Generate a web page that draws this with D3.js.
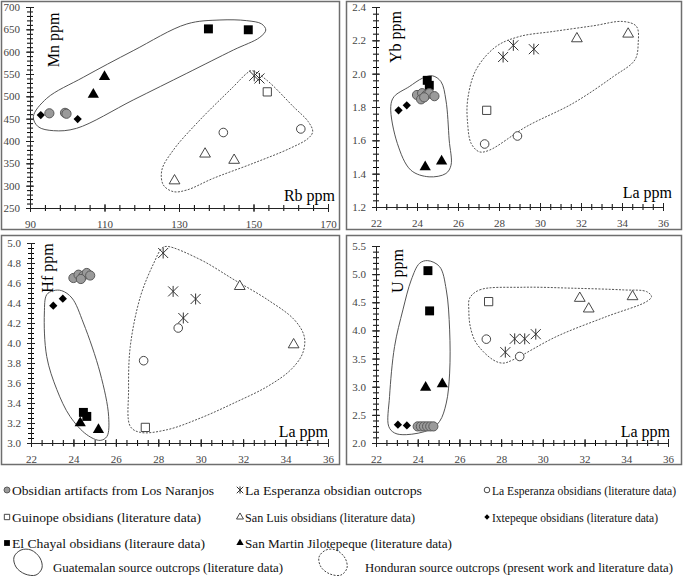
<!DOCTYPE html>
<html>
<head>
<meta charset="utf-8">
<script src="https://cdn.jsdelivr.net/npm/d3@7"></script>
<style>
  body { margin: 0; background: #fff; }
  svg { display: block; font-family: "Liberation Serif", "Times New Roman", serif; }
</style>
</head>
<body>
<div id="chart"></div>
<script>
// group keys: n = Los Naranjos artifacts, e = La Esperanza outcrops, el = La Esperanza (lit.),
// g = Guinope, s = San Luis, i = Ixtepeque, c = El Chayal, m = San Martin Jilotepeque
const rbMn = [
  ['i', 92.9, 458], ['i', 102.8, 449],
  ['n', 95.2, 462], ['n', 99.4, 463], ['n', 99.8, 461],
  ['m', 107, 504], ['m', 110, 544],
  ['c', 137.9, 651], ['c', 148.6, 649],
  ['el', 141.9, 419], ['el', 162.7, 427],
  ['s', 137, 371], ['s', 144.8, 357], ['s', 128.8, 311],
  ['g', 153.7, 510],
  ['e', 150.2, 546], ['e', 151.6, 540]
];
const laYb = [
  ['i', 23.1, 1.78], ['i', 23.5, 1.81],
  ['m', 24.4, 1.44], ['m', 25.2, 1.475],
  ['c', 24.5, 1.96], ['c', 24.6, 1.93],
  ['n', 24.0, 1.872], ['n', 24.25, 1.883], ['n', 24.45, 1.872], ['n', 24.6, 1.883],
  ['n', 24.2, 1.846], ['n', 24.85, 1.865], ['n', 24.35, 1.858],
  ['g', 27.4, 1.78],
  ['el', 27.3, 1.578], ['el', 28.9, 1.626],
  ['s', 31.8, 2.21], ['s', 34.3, 2.238],
  ['e', 28.2, 2.1], ['e', 28.7, 2.17], ['e', 29.7, 2.147]
];
const laHf = [
  ['i', 23.05, 4.373], ['i', 23.5, 4.443],
  ['n', 24.0, 4.65], ['n', 24.24, 4.683], ['n', 24.47, 4.673], ['n', 24.63, 4.70],
  ['n', 24.79, 4.675], ['n', 24.35, 4.64],
  ['c', 24.47, 3.306], ['c', 24.63, 3.266],
  ['m', 24.32, 3.2], ['m', 25.18, 3.133],
  ['el', 27.31, 3.823], ['el', 28.94, 4.15],
  ['g', 27.39, 3.156],
  ['s', 31.84, 4.566], ['s', 34.38, 3.983],
  ['e', 28.23, 4.9], ['e', 28.7, 4.516], ['e', 29.76, 4.44], ['e', 29.18, 4.25]
];
const laU = [
  ['c', 24.49, 5.062], ['c', 24.57, 4.347],
  ['m', 24.38, 2.987], ['m', 25.18, 3.047],
  ['i', 23.05, 2.325], ['i', 23.48, 2.313],
  ['n', 24.0, 2.295], ['n', 24.15, 2.295], ['n', 24.3, 2.295], ['n', 24.45, 2.295],
  ['n', 24.6, 2.295], ['n', 24.75, 2.295],
  ['g', 27.4, 4.512],
  ['el', 27.29, 3.845], ['el', 28.89, 3.537],
  ['e', 28.2, 3.614], ['e', 28.65, 3.85], ['e', 29.13, 3.85], ['e', 29.66, 3.934],
  ['s', 31.77, 4.572], ['s', 32.2, 4.383], ['s', 34.3, 4.601]
];

// source outlines, in data units
const rbMnGuat = [[90.9, 454.5], [92.2, 432], [96.3, 423.1], [102.5, 428.4], [117.7, 491.8],
  [132.1, 551.6], [144.6, 603.7], [151.7, 632.1], [153.3, 648.5], [152.2, 662], [148.2, 669.4],
  [141, 670.9], [132.1, 662], [117.7, 602.2], [104.3, 542.6], [94.5, 495.5]];
const rbMnHond = [[149.5, 557.5], [153.5, 536.6], [160.7, 476.9], [164.7, 443.3], [165.9, 420.9],
  [164.7, 406], [159.8, 383.6], [149.9, 350], [139.2, 316.4], [132.1, 290.3], [128.5, 286.6],
  [125.8, 301.5], [125.4, 335.1], [128.5, 379.9], [135.6, 447], [144.6, 521.6], [148.2, 551.5]];
const laYbGuat = [[24.76, 1.987], [25.17, 1.952], [25.41, 1.842], [25.57, 1.602], [25.66, 1.451],
  [25.41, 1.401], [24.59, 1.381], [23.7, 1.421], [23.04, 1.582], [22.72, 1.802], [22.88, 1.862],
  [23.62, 1.922], [24.27, 1.973]];
const laYbHond = [[26.47, 1.702], [26.47, 1.842], [26.88, 2.023], [27.86, 2.163], [29.0, 2.223],
  [30.63, 2.253], [32.59, 2.287], [34.06, 2.313], [34.71, 2.283], [34.79, 2.183], [34.63, 2.083],
  [33.57, 1.982], [31.61, 1.822], [29.33, 1.682], [27.53, 1.541], [27.04, 1.531], [26.64, 1.582]];
const laHfGuat = [[23.05, 4.523], [22.74, 4.483], [22.63, 4.3], [22.74, 3.866], [23.22, 3.533],
  [23.84, 3.266], [24.63, 3.083], [25.26, 3.026], [25.58, 3.066], [25.66, 3.266], [25.26, 3.7],
  [24.47, 4.2], [23.93, 4.45], [23.45, 4.523]];
const laHfHond = [[28.42, 4.966], [29.99, 4.833], [31.57, 4.633], [33.15, 4.433], [34.41, 4.233],
  [34.88, 4.066], [34.81, 3.9], [34.25, 3.733], [33.15, 3.566], [31.57, 3.4], [29.99, 3.25],
  [28.42, 3.133], [27.16, 3.106], [26.68, 3.166], [26.6, 3.533], [26.68, 3.966], [27.16, 4.466],
  [27.79, 4.8], [28.18, 4.95]];
const laUGuat = [[24.48, 5.24], [25.05, 5.133], [25.37, 4.72], [25.53, 4.01], [25.53, 3.242],
  [25.37, 2.71], [25.05, 2.384], [24.57, 2.236], [23.45, 2.148], [22.89, 2.178], [22.61, 2.295],
  [22.65, 2.827], [22.89, 3.714], [23.29, 4.365], [23.69, 4.897], [24.09, 5.193]];
const laUHond = [[26.49, 4.572], [26.97, 4.72], [29.05, 4.767], [31.45, 4.75], [33.85, 4.72],
  [34.97, 4.69], [35.21, 4.601], [34.97, 4.512], [33.05, 4.246], [30.65, 3.891], [28.57, 3.478],
  [28.09, 3.419], [27.61, 3.478], [26.81, 3.774], [26.52, 4.069], [26.45, 4.365]];

const rbTicks = [90, 110, 130, 150, 170];
const mnTicks = [250, 300, 350, 400, 450, 500, 550, 600, 650, 700];
const laTicks = [22, 24, 26, 28, 30, 32, 34, 36];
const ybTicks = [1.2, 1.4, 1.6, 1.8, 2.0, 2.2, 2.4];
const hfTicks = [3.0, 3.2, 3.4, 3.6, 3.8, 4.0, 4.2, 4.4, 4.6, 4.8, 5.0];
const uTicks = [2.0, 2.5, 3.0, 3.5, 4.0, 4.5, 5.0, 5.5];

const legendKeys = ['n', 'e', 'el', 'g', 's', 'i', 'c', 'm'];
const legendLabels = [
  'Obsidian artifacts from Los Naranjos', 'La Esperanza obsidian outcrops',
  'La Esperanza obsidians (literature data)', 'Guinope obsidians (literature data)',
  'San Luis obsidians (literature data)', 'Ixtepeque obsidians (literature data)',
  'El Chayal obsidians (literaure data)', 'San Martin Jilotepeque (literature data)'
];
const outlineLabels = ['Guatemalan source outcrops (literature data)',
  'Honduran source outcrops (present work and literature data)'];

const width = 685;
const height = 581;

const svg = d3.select('#chart').append('svg')
  .attr('width', width)
  .attr('height', height);

svg.append('rect').attr('width', width).attr('height', height).attr('fill', '#fff');

// marker drawing, s = scale factor
const drawMarker = (g, key, s) => {
  const sym = (type, size) => d3.symbol().type(type).size(size * s * s)();
  if (key === 'n') {
    g.append('circle').attr('r', 4.6 * s).attr('fill', '#9a9a9a').attr('stroke', '#5a5a5a').attr('stroke-width', 1);
  } else if (key === 'el') {
    g.append('circle').attr('r', 4.3 * s).attr('fill', '#fff').attr('stroke', '#333').attr('stroke-width', 0.9);
  } else if (key === 'g') {
    g.append('path').attr('d', sym(d3.symbolSquare, 68)).attr('fill', '#fff').attr('stroke', '#333').attr('stroke-width', 0.9);
  } else if (key === 's') {
    g.append('path').attr('d', sym(d3.symbolTriangle, 50)).attr('fill', '#fff').attr('stroke', '#333').attr('stroke-width', 0.9);
  } else if (key === 'c') {
    g.append('path').attr('d', sym(d3.symbolSquare, 80)).attr('fill', '#000');
  } else if (key === 'm') {
    g.append('path').attr('d', sym(d3.symbolTriangle, 55)).attr('fill', '#000');
  } else if (key === 'i') {
    g.append('path').attr('d', sym(d3.symbolSquare, 34)).attr('fill', '#000').attr('transform', 'rotate(45)');
  } else if (key === 'e') {
    const r = 5 * s;
    g.append('path')
      .attr('d', `M${-r},${-r}L${r},${r}M${-r},${r}L${r},${-r}M0,${-r * 1.1}L0,${r * 1.1}`)
      .attr('stroke', '#333').attr('stroke-width', 1).attr('fill', 'none');
  }
};

// make tick lines cross the axis
const crossTicks = g => {
  g.selectAll('.tick line').attr('x1', function () { return -d3.select(this).attr('x2'); })
    .attr('y1', function () { return -d3.select(this).attr('y2'); });
};

const drawPanel = p => {
  const g = svg.append('g');
  const [fx, fy, fw, fh] = p.frame;
  g.append('rect').attr('x', fx).attr('y', fy).attr('width', fw).attr('height', fh)
    .attr('fill', '#fff').attr('stroke', '#6e6e6e').attr('stroke-width', 1.5);

  const x = d3.scaleLinear().domain(p.xDomain).range(p.xRange);
  const y = d3.scaleLinear().domain(p.yDomain).range(p.yRange);

  const line = d3.line().x(d => x(d[0])).y(d => y(d[1])).curve(d3.curveCatmullRomClosed.alpha(0.5));
  g.append('path').attr('d', line(p.guat)).attr('fill', 'none')
    .attr('stroke', '#555').attr('stroke-width', 1);
  g.append('path').attr('d', line(p.hond)).attr('fill', 'none')
    .attr('stroke', '#555').attr('stroke-width', 1).attr('stroke-dasharray', '2,1.4');

  const x0 = p.yDomain[0];
  const y0 = p.xDomain[0];

  // minor ticks
  const xMinor = d3.range(p.xDomain[0], p.xDomain[1] + 1e-9, p.xStep);
  const yMinor = d3.range(p.yDomain[0], p.yDomain[1] + 1e-9, p.yStep);
  g.append('g').attr('transform', `translate(0,${y(x0)})`)
    .call(d3.axisBottom(x).tickValues(xMinor).tickSize(3).tickFormat(''))
    .call(a => a.select('.domain').remove()).call(crossTicks);
  g.append('g').attr('transform', `translate(${x(y0)},0)`)
    .call(d3.axisLeft(y).tickValues(yMinor).tickSize(3).tickFormat(''))
    .call(a => a.select('.domain').remove()).call(crossTicks);

  // major ticks + labels
  const ax = g.append('g').attr('transform', `translate(0,${y(x0)})`)
    .call(d3.axisBottom(x).tickValues(p.xTicks).tickSize(4).tickPadding(8).tickSizeOuter(0).tickFormat(p.xFmt))
    .call(crossTicks);
  const ay = g.append('g').attr('transform', `translate(${x(y0)},0)`)
    .call(d3.axisLeft(y).tickValues(p.yTicks).tickSize(4).tickPadding(6).tickSizeOuter(0).tickFormat(p.yFmt))
    .call(crossTicks);
  [ax, ay].forEach(a => {
    a.attr('font-family', null).attr('font-size', 11);
    a.selectAll('text').attr('fill', '#444');
    a.selectAll('line, .domain').attr('stroke', '#222');
  });

  // points
  const pts = g.append('g').selectAll('g').data(p.points).enter().append('g')
    .attr('transform', d => `translate(${x(d[1])},${y(d[2])})`);
  pts.each(function (d) { drawMarker(d3.select(this), d[0], 1); });

  // titles
  g.append('text').attr('transform', `translate(${p.yTitle[1]},${p.yTitle[2]}) rotate(-90)`)
    .attr('text-anchor', 'middle').attr('font-size', 16).text(p.yTitle[0]);
  g.append('text').attr('x', p.xTitle[1]).attr('y', p.xTitle[2])
    .attr('text-anchor', 'end').attr('font-size', 16).text(p.xTitle[0]);
};

const fmt1 = d3.format('.1f');
const fmt0 = d3.format('d');

const panels = [
  { frame: [1.5, 1.5, 338, 228], xDomain: [90, 170], xRange: [30, 328], yDomain: [250, 700], yRange: [208, 7],
    xTicks: rbTicks, yTicks: mnTicks, xStep: 4, yStep: 10, xFmt: fmt0, yFmt: fmt0,
    points: rbMn, guat: rbMnGuat, hond: rbMnHond, yTitle: ['Mn ppm', 59, 40], xTitle: ['Rb ppm', 335, 201] },
  { frame: [346.5, 1.5, 335, 228], xDomain: [22, 36], xRange: [376, 663], yDomain: [1.2, 2.4], yRange: [207, 7],
    xTicks: laTicks, yTicks: ybTicks, xStep: 0.5, yStep: 0.04, xFmt: fmt0, yFmt: fmt1,
    points: laYb, guat: laYbGuat, hond: laYbHond, yTitle: ['Yb ppm', 401, 37], xTitle: ['La ppm', 672, 198] },
  { frame: [1.5, 235.5, 338, 229], xDomain: [22, 36], xRange: [31, 328], yDomain: [3, 5], yRange: [443, 243],
    xTicks: laTicks, yTicks: hfTicks, xStep: 0.5, yStep: 0.05, xFmt: fmt0, yFmt: fmt1,
    points: laHf, guat: laHfGuat, hond: laHfHond, yTitle: ['Hf ppm', 53, 268], xTitle: ['La ppm', 328, 437] },
  { frame: [346.5, 235.5, 335, 229], xDomain: [22, 36], xRange: [376, 668], yDomain: [2, 5.5], yRange: [443, 246],
    xTicks: laTicks, yTicks: uTicks, xStep: 0.5, yStep: 0.1, xFmt: fmt0, yFmt: fmt1,
    points: laU, guat: laUGuat, hond: laUHond, yTitle: ['U ppm', 403, 271], xTitle: ['La ppm', 670, 437] }
];

panels.forEach(drawPanel);

// legend (text widths fitted to the original typesetting)
const legCols = [7, 240, 487];
const legRows = [490, 517, 543];
const legWidths = [202, 177, 184, 189, 170, 166, 193, 207];
const leg = svg.append('g').attr('font-size', 11.9).attr('fill', '#111');
legendKeys.forEach((k, i) => {
  const cx = legCols[i % 3];
  const cy = legRows[Math.floor(i / 3)];
  const m = leg.append('g').attr('transform', `translate(${cx},${cy})`);
  drawMarker(m, k, 0.65);
  leg.append('text').attr('x', cx + 5).attr('y', cy + 4.5)
    .attr('textLength', legWidths[i]).attr('lengthAdjust', 'spacingAndGlyphs')
    .text(legendLabels[i]);
});

const loop = d3.line().curve(d3.curveCatmullRomClosed.alpha(0.5));
const loopShape = [[-14, -5], [-7, -12], [3, -12], [12, -4], [14, 6], [8, 13], [-3, 12], [-12, 5]];
[[28, 562, null, 53, 230], [333, 562, '2,1.4', 365, 308]].forEach((d, i) => {
  leg.append('path').attr('transform', `translate(${d[0]},${d[1]})`)
    .attr('d', loop(loopShape)).attr('fill', 'none').attr('stroke', '#444').attr('stroke-width', 1)
    .attr('stroke-dasharray', d[2]);
  leg.append('text').attr('x', d[3]).attr('y', 572)
    .attr('textLength', d[4]).attr('lengthAdjust', 'spacingAndGlyphs')
    .text(outlineLabels[i]);
});
</script>
</body>
</html>
